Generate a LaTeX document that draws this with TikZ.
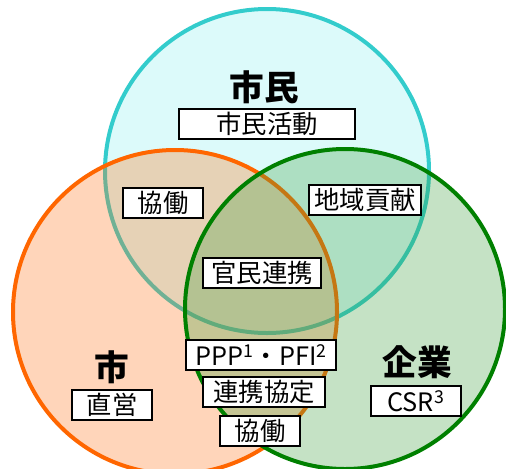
\documentclass[tikz,border=0pt]{standalone}
\usepackage{fontspec}
\setmainfont{Noto Sans CJK JP}
\usetikzlibrary{shadows}

\definecolor{shiminline}{RGB}{51,204,204}
\definecolor{shiminfill}{RGB}{140,240,240}
\definecolor{shiline}{RGB}{255,102,0}
\definecolor{kigyoline}{RGB}{0,128,0}

\tikzset{every picture/.style={line width=0.75pt}}
\tikzset{
  ring/.style={line width=3pt, fill opacity=0.3},
  titletext/.style={inner sep=0.75pt, font=\fontsize{26}{28}\selectfont\bfseries},
  labelbox/.style={draw, fill=white, line width=1.3pt, inner sep=0.75pt,
    minimum height=22pt, font=\fontsize{19}{21}\selectfont,
    drop shadow={shadow xshift=1pt, shadow yshift=-1pt, fill=gray, opacity=0.7}},
}

\begin{document}
\begin{tikzpicture}[x=0.75pt,y=0.75pt,yscale=-1,xscale=1]
    \useasboundingbox (0,0) rectangle (506,468);

    %Shape: Circle [shimin]
    \draw [ring, draw=shiminline, fill=shiminfill] (267,171) circle (162);
    %Shape: Circle [shi]
    \draw [ring, draw=shiline, fill=shiline!90] (175,312) circle (162);
    %Shape: Circle [kigyo]
    \draw [ring, draw=kigyoline, fill=kigyoline!75] (345,309) circle (160);

    % Text Node
    \node (shimin) at (264,87) [titletext] {市民};
    % Text Node
    \node (shiminkatsudo) at (267,124) [labelbox, minimum width=132pt] {市民活動};
    % Text Node
    \node (kyodoA) at (163,203) [labelbox, minimum width=60pt] {協働};
    % Text Node
    \node (chiiki) at (365,200) [labelbox, minimum width=84pt] {地域貢献};
    % Text Node
    \node (kanmin) at (262,273) [labelbox, minimum width=88pt] {官民連携};
    % Text Node
    \node (ppp) at (261,355) [labelbox, minimum width=112pt] {PPP\textsuperscript{1}・PFI\textsuperscript{2}};
    % Text Node
    \node (renkei) at (264,392) [labelbox, minimum width=91pt] {連携協定};
    % Text Node
    \node (kyodoB) at (260,431) [labelbox, minimum width=60pt] {協働};
    % Text Node
    \node (shi) at (112,367) [titletext] {市};
    % Text Node
    \node (chokuei) at (112,405) [labelbox, minimum width=60pt] {直営};
    % Text Node
    \node (kigyo) at (417,362) [titletext] {企業};
    % Text Node
    \node (csr) at (416,401) [labelbox, minimum width=67pt] {CSR\textsuperscript{3}};

\end{tikzpicture}
\end{document}
